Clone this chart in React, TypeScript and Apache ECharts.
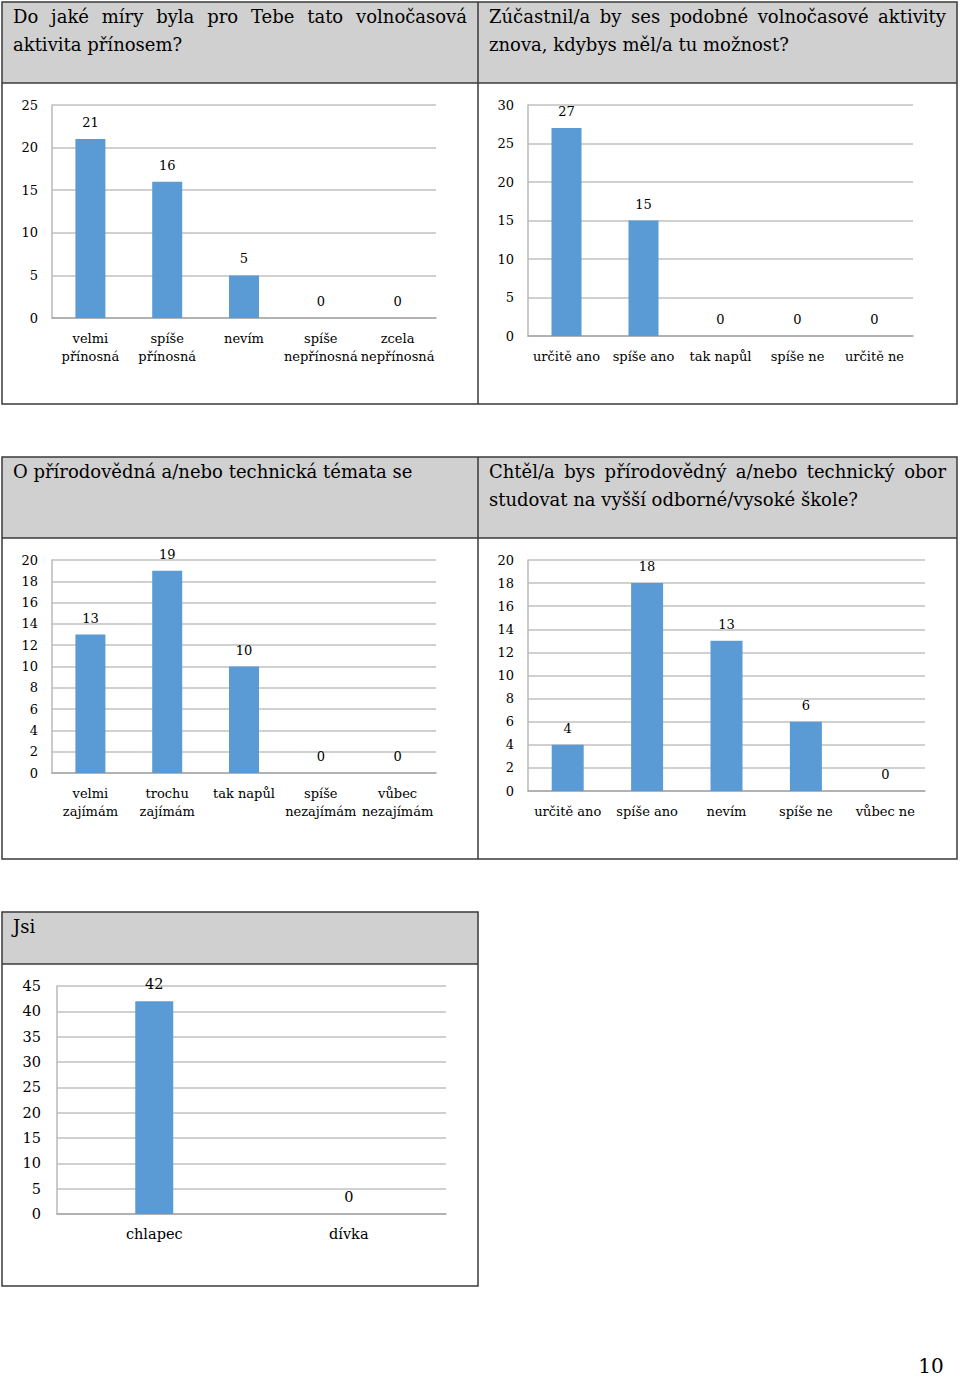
import React, { useEffect, useRef } from "react";
import * as echarts from "echarts";

const cat1 = ["velmi\npřínosná", "spíše\npřínosná", "nevím", "spíše\nnepřínosná", "zcela\nnepřínosná"];
const val1 = [21, 16, 5, 0, 0];
const cat2 = ["určitě ano", "spíše ano", "tak napůl", "spíše ne", "určitě ne"];
const val2 = [27, 15, 0, 0, 0];
const cat3 = ["velmi\nzajímám", "trochu\nzajímám", "tak napůl", "spíše\nnezajímám", "vůbec\nnezajímám"];
const val3 = [13, 19, 10, 0, 0];
const cat4 = ["určitě ano", "spíše ano", "nevím", "spíše ne", "vůbec ne"];
const val4 = [4, 18, 13, 6, 0];
const cat5 = ["chlapec", "dívka"];
const val5 = [42, 0];
const axisMax = [25, 30, 20, 20, 45];
const axisStep = [5, 5, 2, 2, 5];

const head1 = ["Do jaké míry byla pro Tebe tato volnočasová", "aktivita přínosem?"];
const head2 = ["Zúčastnil/a by ses podobné volnočasové aktivity", "znova, kdybys měl/a tu možnost?"];
const head3 = ["O přírodovědná a/nebo technická témata se"];
const head4 = ["Chtěl/a bys přírodovědný a/nebo technický obor", "studovat na vyšší odborné/vysoké škole?"];
const head5 = ["Jsi"];
const pageNumber = "10";

const FONT = '"DejaVu Serif", "Liberation Serif", serif';
const HEAD_SIZE = 18;
const BAR = "#5b9bd5";
const GRIDC = "#c0c0c0";
const BORDER = "#3a3a3a";
const GRAY = "#d0d0d0";

function measure(text: string, size: number): number {
  const c = document.createElement("canvas").getContext("2d");
  if (!c) return text.length * size * 0.55;
  c.font = `${size}px ${FONT}`;
  return c.measureText(text).width;
}

function textEl(text: string, x: number, y: number, size: number, align = "left") {
  return {
    type: "text",
    x,
    y,
    silent: true,
    style: { text, fontSize: size, fontFamily: FONT, fill: "#000", align, verticalAlign: "middle" },
  };
}

function lineEls(text: string, x0: number, x1: number, y: number, justify: boolean) {
  if (!justify) return [textEl(text, x0, y, HEAD_SIZE)];
  const words = text.split(" ");
  const widths = words.map((w) => measure(w, HEAD_SIZE));
  const total = widths.reduce((a, b) => a + b, 0);
  const gap = (x1 - x0 - total) / (words.length - 1);
  const out: any[] = [];
  let x = x0;
  words.forEach((w, i) => {
    out.push(textEl(w, x, y, HEAD_SIZE));
    x += widths[i] + gap;
  });
  return out;
}

function headerEls(lines: string[], x0: number, x1: number, y0: number, justifyFirst: boolean) {
  const out: any[] = [];
  lines.forEach((l, i) => {
    out.push(...lineEls(l, x0, x1, y0 + i * 28, justifyFirst && i === 0 && lines.length > 1));
  });
  return out;
}

function tableEls(x0: number, x1: number, y0: number, yh: number, y1: number, xmid: number | null) {
  const els: any[] = [];
  els.push({ type: "rect", shape: { x: x0, y: y0, width: x1 - x0, height: yh - y0 }, style: { fill: GRAY }, silent: true });
  els.push({ type: "rect", shape: { x: x0, y: y0, width: x1 - x0, height: y1 - y0 }, style: { fill: "none", stroke: BORDER, lineWidth: 1.5 }, silent: true, z: 10 });
  els.push({ type: "line", shape: { x1: x0, y1: yh, x2: x1, y2: yh }, style: { stroke: BORDER, lineWidth: 1.5 }, silent: true, z: 10 });
  if (xmid !== null) {
    els.push({ type: "line", shape: { x1: xmid, y1: y0, x2: xmid, y2: y1 }, style: { stroke: BORDER, lineWidth: 1.5 }, silent: true, z: 10 });
  }
  return els;
}

const grids = [
  { left: 52, top: 105, width: 384, height: 213 },
  { left: 528, top: 105, width: 385, height: 231 },
  { left: 52, top: 560, width: 384, height: 213 },
  { left: 528, top: 560, width: 397, height: 231 },
  { left: 57, top: 986, width: 389, height: 228 },
];
const cats = [cat1, cat2, cat3, cat4, cat5];
const vals = [val1, val2, val3, val4, val5];
const barWidths = [30, 30, 30, 32, 38];
const fontSizes = [13, 13, 13, 13, 14.5];
const yMargins = [14, 14, 14, 14, 16];

export default function App() {
  const ref = useRef<HTMLDivElement>(null);
  useEffect(() => {
    if (!ref.current) return;
    const chart = echarts.init(ref.current, undefined, { renderer: "svg" });
    const graphics: any[] = [
      ...tableEls(2, 957, 2, 83, 404, 478),
      ...tableEls(2, 957, 457, 538, 859, 478),
      ...tableEls(2, 478, 912, 964, 1286, null),
      ...headerEls(head1, 13, 467, 16, true),
      ...headerEls(head2, 489, 946, 16, true),
      ...headerEls(head3, 13, 467, 471, false),
      ...headerEls(head4, 489, 946, 471, true),
      ...headerEls(head5, 13, 467, 926, false),
      textEl(pageNumber, 931, 1366, 20, "center"),
    ];
    const option: any = {
      animation: false,
      backgroundColor: "#fff",
      textStyle: { fontFamily: FONT },
      graphic: graphics,
      grid: grids.map((g) => ({ ...g, containLabel: false })),
      xAxis: cats.map((c, i) => ({
        type: "category",
        gridIndex: i,
        data: c,
        axisTick: { show: false },
        axisLine: { lineStyle: { color: "#a8a8a8", width: 1.5 } },
        axisLabel: { interval: 0, color: "#000", fontSize: fontSizes[i], fontFamily: FONT, lineHeight: 18, margin: 11 },
      })),
      yAxis: cats.map((_, i) => ({
        type: "value",
        gridIndex: i,
        min: 0,
        max: axisMax[i],
        interval: axisStep[i],
        axisLine: { show: true, lineStyle: { color: "#b8b8b8", width: 1.5 } },
        axisTick: { show: false },
        splitLine: { lineStyle: { color: GRIDC, width: 1.5 } },
        axisLabel: { color: "#000", fontSize: fontSizes[i], fontFamily: FONT, margin: yMargins[i] },
      })),
      series: vals.map((v, i) => ({
        type: "bar",
        xAxisIndex: i,
        yAxisIndex: i,
        data: v,
        barWidth: barWidths[i],
        itemStyle: { color: BAR },
        label: { show: true, position: "top", distance: 10, color: "#000", fontSize: fontSizes[i], fontFamily: FONT },
      })),
    };
    chart.setOption(option);
    return () => chart.dispose();
  }, []);
  return <div ref={ref} style={{ position: "absolute", left: 0, top: 0, width: 960, height: 1379 }} />;
}
